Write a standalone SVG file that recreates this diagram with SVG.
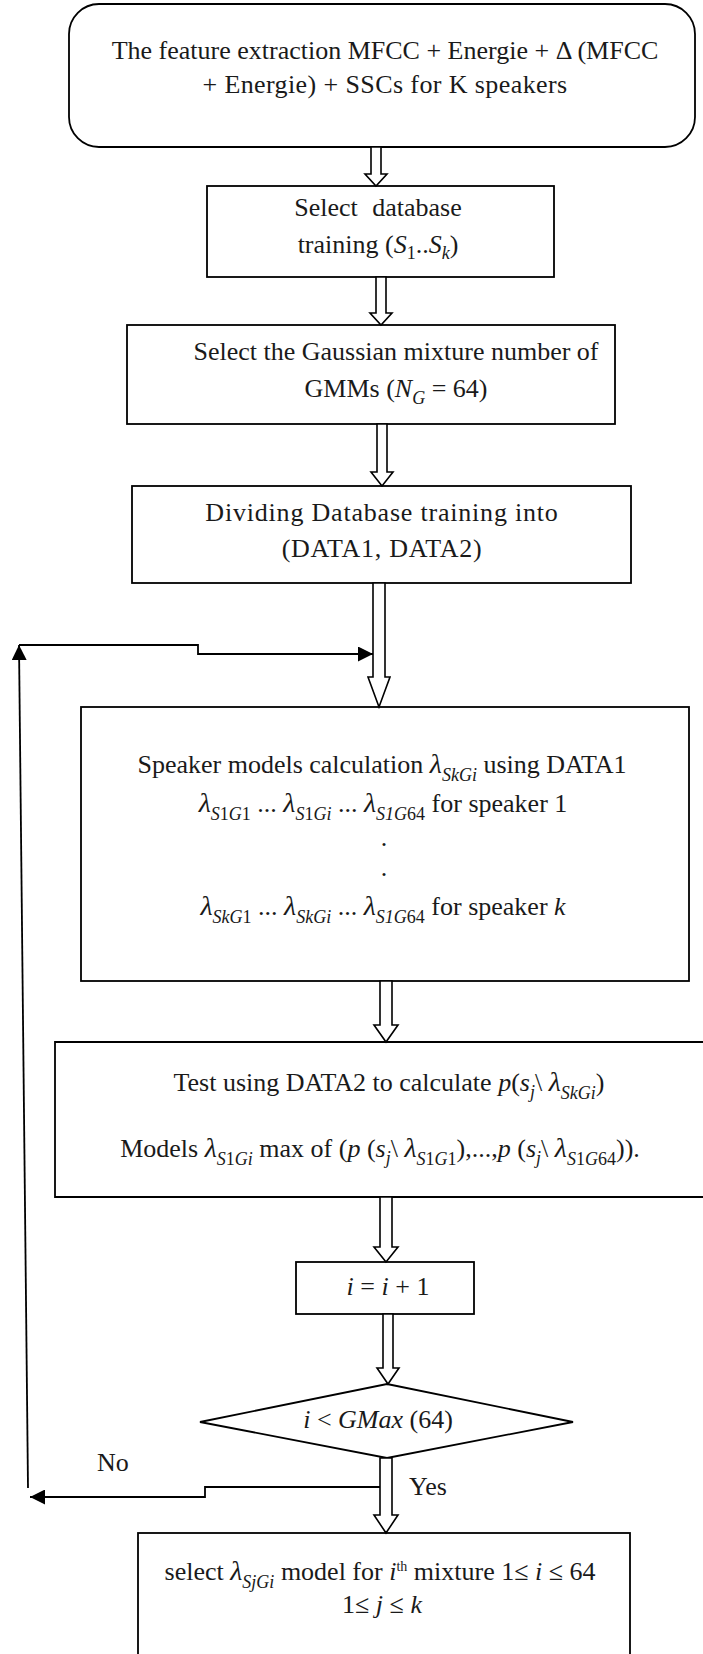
<svg xmlns="http://www.w3.org/2000/svg" width="703" height="1654" viewBox="0 0 703 1654">
  <style>
    .box { fill: #ffffff; stroke: #000000; stroke-width: 1.8; }
    .edge { fill: none; stroke: #000000; stroke-width: 1.8; }
    .blk { fill: #ffffff; stroke: #000000; stroke-width: 1.6; stroke-linejoin: miter; }
    text { font-family: "Liberation Serif", "Times New Roman", serif; font-size: 26px; fill: #1a1a1a; }
    .c { text-anchor: middle; }
    .it { font-style: italic; }
    .lam { font-style: italic; font-size: 28px; }
    .sb { font-size: 18px; font-style: italic; }
    .sd { font-size: 18px; }
    .sp { font-size: 14px; }
  </style>
  <defs>
    <marker id="tri" viewBox="0 0 10 10" refX="10" refY="5" markerWidth="15" markerHeight="15" markerUnits="userSpaceOnUse" orient="auto">
      <path d="M0,0 L10,5 L0,10 z" fill="#000000"/>
    </marker>
  </defs>

  <rect width="703" height="1654" fill="#ffffff"/>

  <!-- feature extraction -->
  <g id="n-features">
    <rect class="box" x="69" y="4" width="626" height="143" rx="30" ry="30"/>
    <text class="c" x="385" y="59">The feature extraction MFCC + Energie + Δ (MFCC</text>
    <text class="c" x="385" y="93" letter-spacing="0.4">+ Energie) + SSCs for K speakers</text>
  </g>

  <!-- database selection -->
  <g id="n-database">
    <rect class="box" x="207" y="186" width="347" height="91"/>
    <text class="c" x="378" y="216" word-spacing="8">Select database</text>
    <text class="c" x="378" y="253">training (<tspan class="it">S</tspan><tspan class="sd" dy="6">1</tspan><tspan dy="-6">..</tspan><tspan class="it">S</tspan><tspan class="sb" dy="6">k</tspan><tspan dy="-6">)</tspan></text>
  </g>

  <!-- mixture number -->
  <g id="n-mixture">
    <rect class="box" x="127" y="325" width="488" height="99"/>
    <text class="c" x="396" y="360">Select the Gaussian mixture number of</text>
    <text class="c" x="396" y="397">GMMs (<tspan class="it">N</tspan><tspan class="sb" dy="7">G</tspan><tspan dy="-7"> = 64)</tspan></text>
  </g>

  <!-- split -->
  <g id="n-split">
    <rect class="box" x="132" y="486" width="499" height="97"/>
    <text class="c" x="382" y="521" letter-spacing="0.8">Dividing Database training into</text>
    <text class="c" x="382" y="557" letter-spacing="0.7">(DATA1, DATA2)</text>
  </g>

  <!-- model training -->
  <g id="n-models">
    <rect class="box" x="81" y="707" width="608" height="274"/>
    <text class="c" x="382" y="773">Speaker models calculation <tspan class="lam">λ</tspan><tspan class="sb" dy="8">SkGi</tspan><tspan dy="-8"> using DATA1</tspan></text>
    <text class="c" x="383" y="812"><tspan class="lam">λ</tspan><tspan class="sb" dy="8">S</tspan><tspan class="sd">1</tspan><tspan class="sb">G</tspan><tspan class="sd">1</tspan><tspan dy="-8"> ... </tspan><tspan class="lam">λ</tspan><tspan class="sb" dy="8">S</tspan><tspan class="sd">1</tspan><tspan class="sb">Gi</tspan><tspan dy="-8"> ... </tspan><tspan class="lam">λ</tspan><tspan class="sb" dy="8">S1G</tspan><tspan class="sd">64</tspan><tspan dy="-8"> for speaker 1</tspan></text>
    <text class="c" x="384" y="846">.</text>
    <text class="c" x="384" y="876">.</text>
    <text class="c" x="383" y="915"><tspan class="lam">λ</tspan><tspan class="sb" dy="8">SkG</tspan><tspan class="sd">1</tspan><tspan dy="-8"> ... </tspan><tspan class="lam">λ</tspan><tspan class="sb" dy="8">SkGi</tspan><tspan dy="-8"> ... </tspan><tspan class="lam">λ</tspan><tspan class="sb" dy="8">S1G</tspan><tspan class="sd">64</tspan><tspan dy="-8"> for speaker </tspan><tspan class="it">k</tspan></text>
  </g>

  <!-- likelihood test -->
  <g id="n-test">
    <path class="edge" d="M703,1042 H55 V1197 H703"/>
    <text class="c" x="389" y="1091">Test using DATA2 to calculate <tspan class="it">p</tspan>(<tspan class="it">s</tspan><tspan class="sb" dy="7">j</tspan><tspan dy="-7">\ </tspan><tspan class="lam">λ</tspan><tspan class="sb" dy="8">SkGi</tspan><tspan dy="-8">)</tspan></text>
    <text class="c" x="380" y="1157">Models <tspan class="lam">λ</tspan><tspan class="sb" dy="8">S</tspan><tspan class="sd">1</tspan><tspan class="sb">Gi</tspan><tspan dy="-8"> max of (</tspan><tspan class="it">p</tspan> (<tspan class="it">s</tspan><tspan class="sb" dy="7">j</tspan><tspan dy="-7">\ </tspan><tspan class="lam">λ</tspan><tspan class="sb" dy="8">S</tspan><tspan class="sd">1</tspan><tspan class="sb">G</tspan><tspan class="sd">1</tspan><tspan dy="-8">),...,</tspan><tspan class="it">p</tspan> (<tspan class="it">s</tspan><tspan class="sb" dy="7">j</tspan><tspan dy="-7">\ </tspan><tspan class="lam">λ</tspan><tspan class="sb" dy="8">S</tspan><tspan class="sd">1</tspan><tspan class="sb">G</tspan><tspan class="sd">64</tspan><tspan dy="-8">)).</tspan></text>
  </g>

  <!-- increment -->
  <g id="n-increment">
    <rect class="box" x="296" y="1262" width="178" height="52"/>
    <text class="c" x="388" y="1295"><tspan class="it">i</tspan> = <tspan class="it">i</tspan> + 1</text>
  </g>

  <!-- loop test -->
  <g id="n-decision">
    <polygon class="box" points="387,1384 573,1422 387,1458 200,1422"/>
    <text class="c" x="378" y="1428"><tspan class="it">i</tspan> &lt; <tspan class="it">GMax</tspan> (64)</text>
  </g>

  <!-- final selection -->
  <g id="n-select">
    <rect class="box" x="138" y="1533" width="492" height="140"/>
    <text class="c" x="380" y="1580">select <tspan class="lam">λ</tspan><tspan class="sb" dy="8">SjGi</tspan><tspan dy="-8"> model for </tspan><tspan class="it">i</tspan><tspan class="sp" dy="-9">th</tspan><tspan dy="9"> mixture 1≤ </tspan><tspan class="it">i</tspan> ≤ 64</text>
    <text class="c" x="382" y="1613">1≤ <tspan class="it">j</tspan> ≤ <tspan class="it">k</tspan></text>
  </g>

  <!-- connectors -->
  <g id="connectors">
    <polygon class="blk" points="371,147 381,147 381,174 387,174 376,186 365,174 371,174"/>
    <polygon class="blk" points="376,277 386,277 386,313 392,313 381,325 370,313 376,313"/>
    <polygon class="blk" points="377,424 387,424 387,472 393,472 382,486 371,472 377,472"/>
    <polygon class="blk" points="373,583 385,583 385,677 390,677 379,707 368,677 373,677"/>
    <polygon class="blk" points="380,981 392,981 392,1025 398,1025 386,1042 374,1025 380,1025"/>
    <polygon class="blk" points="380,1197 392,1197 392,1247 398,1247 386,1262 374,1247 380,1247"/>
    <polygon class="blk" points="383,1314 393,1314 393,1368 399,1368 388,1384 377,1368 383,1368"/>
    <polygon class="blk" points="380,1458 392,1458 392,1515 398,1515 386,1533 374,1515 380,1515"/>

    <!-- loop back when the mixture limit is reached -->
    <path class="edge" d="M380,1487 H205 V1497 H30" marker-end="url(#tri)"/>
    <path class="edge" d="M28,1488 L19,645" marker-end="url(#tri)"/>
    <path class="edge" d="M19,645 H198 V654 H373" marker-end="url(#tri)"/>

    <text x="97" y="1471">No</text>
    <text x="409" y="1495">Yes</text>
  </g>
</svg>
